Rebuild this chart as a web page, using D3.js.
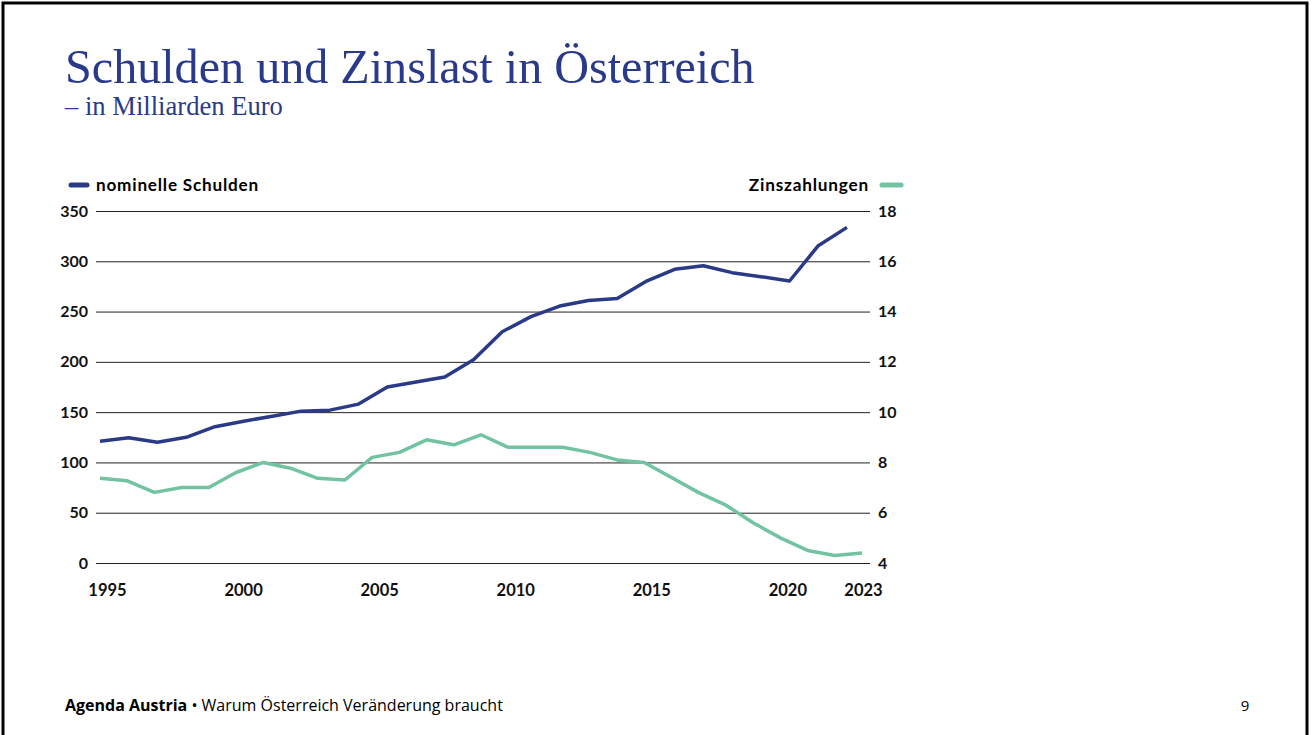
<!DOCTYPE html>
<html>
<head>
<meta charset="utf-8">
<script src="https://cdn.jsdelivr.net/npm/d3@7"></script>
<style>
  body { margin: 0; background: #fff; }
  svg { display: block; }
</style>
</head>
<body>
<div id="maincontent"></div>
<script>
// Schulden (Mrd. Euro), 1995-2021
var debtYears = d3.range(1995, 2022);
var debt = [121, 124.6, 120, 125, 135.5, 141, 146, 151, 152, 158,
            175, 180, 185, 202, 230, 245, 255.5, 261, 263, 280,
            292, 295.6, 288.7, 284.7, 280.4, 315.5, 333.7];

// Zinszahlungen (Mrd. Euro), 1995-2023
var interestYears = d3.range(1995, 2024);
var interest = [7.37, 7.27, 6.81, 7.0, 7.0, 7.6, 8.0, 7.77, 7.37, 7.3,
                8.2, 8.4, 8.9, 8.7, 9.1, 8.6, 8.6, 8.6, 8.4, 8.1,
                8.0, 7.4, 6.8, 6.3, 5.6, 5.0, 4.5, 4.3, 4.4];

var leftTicks = [0, 50, 100, 150, 200, 250, 300, 350];
var rightTicks = [4, 6, 8, 10, 12, 14, 16, 18];
var yearTicks = [1995, 2000, 2005, 2010, 2015, 2020, 2023];

var w = 1313, h = 735;
var navy = "#2b3a86", green = "#71c3a1", titleBlue = "#2a3a8a";
var sans = "Lato, 'Open Sans', sans-serif";

var svg = d3.select("#maincontent").append("svg")
    .attr("width", w).attr("height", h);

// scale a text's font size so it spans the given width
function fit(sel, size, width) {
  var len = sel.node().getComputedTextLength();
  sel.attr("font-size", size * width / len);
}

// slide frame
svg.append("rect")
    .attr("x", 3).attr("y", 3).attr("width", 1304).attr("height", 760)
    .attr("fill", "none").attr("stroke", "#000").attr("stroke-width", 3);

// title
var title = svg.append("text")
    .attr("x", 65).attr("y", 83)
    .attr("font-family", "'Liberation Serif', serif")
    .attr("font-size", 46)
    .attr("fill", titleBlue)
    .text("Schulden und Zinslast in Österreich");
fit(title, 46, 690);

var sub = svg.append("text")
    .attr("x", 65).attr("y", 115)
    .attr("font-family", "'Liberation Serif', serif")
    .attr("font-size", 24)
    .attr("fill", titleBlue)
    .text("– in Milliarden Euro");
fit(sub, 24, 218);

// scales
var plotLeft = 96, plotRight = 870, yTop = 211, yBottom = 563;
var yL = d3.scaleLinear().domain([0, 350]).range([yBottom, yTop]);
var yR = d3.scaleLinear().domain([4, 18]).range([yBottom, yTop]);
var xG = d3.scaleLinear().domain([1995, 2023]).range([100, 862]);
var xB = d3.scaleLinear().domain([1995, 2021]).range([100, 847]);

// left axis + gridlines
var gl = svg.append("g")
    .attr("transform", "translate(" + plotLeft + ",0)")
    .call(d3.axisLeft(yL).tickValues(leftTicks)
        .tickSize(-(plotRight - plotLeft)).tickPadding(8));
gl.select(".domain").remove();
gl.selectAll(".tick line").attr("stroke", "#222").attr("stroke-width", 1);
gl.selectAll(".tick text")
    .attr("font-family", sans).attr("font-size", 16).attr("font-weight", 700)
    .attr("fill", "#111");

// right axis
var gr = svg.append("g")
    .attr("transform", "translate(" + plotRight + ",0)")
    .call(d3.axisRight(yR).tickValues(rightTicks).tickSize(0).tickPadding(8));
gr.select(".domain").remove();
gr.selectAll(".tick text")
    .attr("font-family", sans).attr("font-size", 16).attr("font-weight", 700)
    .attr("fill", "#111");

// x axis labels
var gx = svg.append("g")
    .attr("transform", "translate(0," + yBottom + ")")
    .call(d3.axisBottom(xG).tickValues(yearTicks).tickFormat(d3.format("d"))
        .tickSize(0).tickPadding(21));
gx.select(".domain").remove();
gx.selectAll(".tick text")
    .attr("font-family", sans).attr("font-size", 16.5).attr("font-weight", 700)
    .attr("fill", "#111")
    .attr("dx", function(d) { return d == 2023 ? 1 : 7; });

// lines
var lineB = d3.line()
    .x(function(d, i) { return xB(debtYears[i]); })
    .y(function(d) { return yL(d); });
var lineG = d3.line()
    .x(function(d, i) { return xG(interestYears[i]); })
    .y(function(d) { return yR(d); });

svg.append("path").datum(interest)
    .attr("d", lineG)
    .attr("fill", "none").attr("stroke", green).attr("stroke-width", 3.5)
    .attr("stroke-linejoin", "round");

svg.append("path").datum(debt)
    .attr("d", lineB)
    .attr("fill", "none").attr("stroke", navy).attr("stroke-width", 3.5)
    .attr("stroke-linejoin", "round");

// legend
svg.append("line")
    .attr("x1", 71).attr("x2", 87).attr("y1", 185).attr("y2", 185)
    .attr("stroke", navy).attr("stroke-width", 5).attr("stroke-linecap", "round");
var legL = svg.append("text")
    .attr("x", 96).attr("y", 191)
    .attr("font-family", sans).attr("font-size", 16).attr("font-weight", 700)
    .attr("fill", "#000")
    .attr("letter-spacing", 0.8)
    .text("nominelle Schulden");
fit(legL, 16, 164);

var legR = svg.append("text")
    .attr("x", 869).attr("y", 191).attr("text-anchor", "end")
    .attr("font-family", sans).attr("font-size", 16).attr("font-weight", 700)
    .attr("fill", "#000")
    .attr("letter-spacing", 0.8)
    .text("Zinszahlungen");
fit(legR, 16, 121);
svg.append("line")
    .attr("x1", 882).attr("x2", 901).attr("y1", 185).attr("y2", 185)
    .attr("stroke", green).attr("stroke-width", 5).attr("stroke-linecap", "round");

// footer
var foot = svg.append("text")
    .attr("x", 65).attr("y", 711)
    .attr("font-family", "'Open Sans', sans-serif").attr("font-size", 14)
    .attr("fill", "#000");
foot.append("tspan").attr("font-weight", 700).text("Agenda Austria");
foot.append("tspan").text(" • Warum Österreich Veränderung braucht");
fit(foot, 14, 438);

svg.append("text")
    .attr("x", 1245).attr("y", 711).attr("text-anchor", "middle")
    .attr("font-family", "'Open Sans', sans-serif").attr("font-size", 15)
    .attr("fill", "#000")
    .text("9");
</script>
</body>
</html>
